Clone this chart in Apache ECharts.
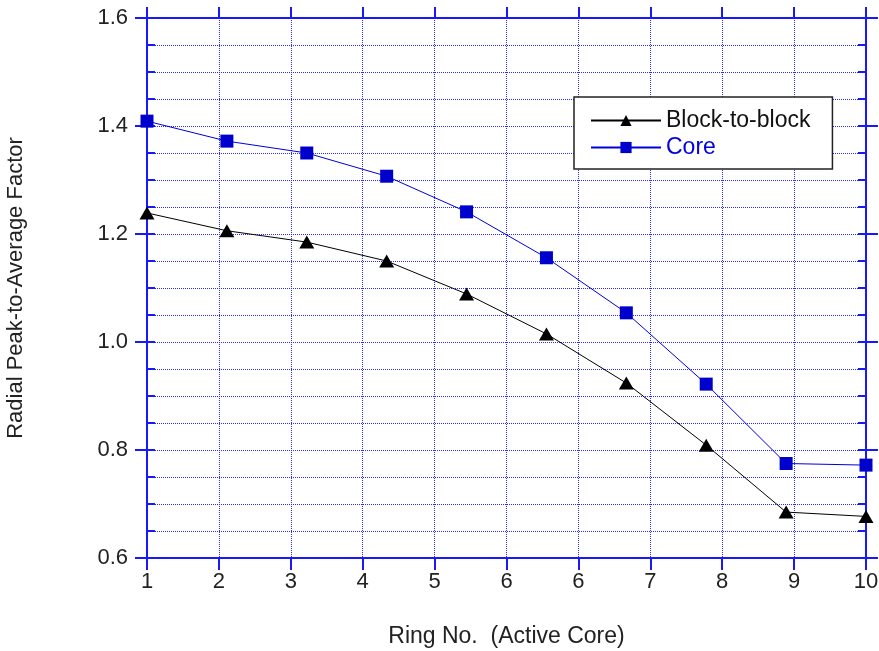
<!DOCTYPE html>
<html>
<head>
<meta charset="utf-8">
<script src="https://cdn.jsdelivr.net/npm/echarts@6/dist/echarts.min.js"></script>
<style>html,body{margin:0;padding:0;background:#fff}#c{width:879px;height:651px}</style>
</head>
<body>
<div id="c"></div>
<script>
const rings = [1, 2, 3, 4, 5, 6, 7, 8, 9, 10];
const tickLabels = ["1", "2", "3", "4", "5", "6", "6", "7", "8", "9", "10"];
const blockToBlock = [1.239, 1.206, 1.185, 1.150, 1.089, 1.015, 0.924, 0.809, 0.685, 0.677];
const core = [1.409, 1.372, 1.350, 1.307, 1.241, 1.156, 1.054, 0.922, 0.775, 0.772];

const AX = '#1818ff';
const GRIDC = '#2a2aff';
const FONT = '"Liberation Sans", Arial, sans-serif';
const TXT = '#222';

const chart = echarts.init(document.getElementById('c'), null, {renderer: 'canvas'});
const gridRect = {left: 147, right: 13, top: 18, bottom: 93, containLabel: false, outerBoundsMode: 'none'};
chart.setOption({
  backgroundColor: '#fff',
  animation: false,
  grid: [Object.assign({}, gridRect), Object.assign({}, gridRect)],
  xAxis: [
    {
      gridIndex: 0, type: 'category', data: tickLabels, boundaryGap: false, position: 'bottom',
      axisLine: {lineStyle: {color: AX, width: 2}},
      axisTick: {show: true, inside: false, length: 12, lineStyle: {color: AX, width: 2}},
      axisLabel: {color: TXT, fontSize: 22, fontFamily: FONT, margin: 13, interval: 0},
      splitLine: {show: true, lineStyle: {color: GRIDC, width: 1, type: [1, 1]}},
      name: 'Ring No.  (Active Core)', nameLocation: 'middle', nameGap: 67,
      nameTextStyle: {color: TXT, fontSize: 23, fontFamily: FONT}
    },
    {
      gridIndex: 0, type: 'category', data: tickLabels, boundaryGap: false, position: 'top',
      axisLine: {lineStyle: {color: AX, width: 2}},
      axisTick: {show: true, inside: false, length: 11, lineStyle: {color: AX, width: 2}},
      axisLabel: {show: false},
      splitLine: {show: false}
    },
    {
      gridIndex: 1, type: 'value', min: 1, max: 10, show: false,
      splitLine: {show: false}
    }
  ],
  yAxis: [
    {
      gridIndex: 0, type: 'value', min: 0.6, max: 1.6, interval: 0.2, position: 'left',
      axisLine: {show: true, lineStyle: {color: AX, width: 2}},
      axisTick: {show: true, inside: false, length: 12, lineStyle: {color: AX, width: 2}},
      axisLabel: {color: TXT, fontSize: 22, fontFamily: FONT, margin: 19,
        formatter: v => v.toFixed(1)},
      splitLine: {show: false},
      name: 'Radial Peak-to-Average Factor', nameLocation: 'middle', nameGap: 120,
      nameTextStyle: {color: TXT, fontSize: 22, fontFamily: FONT}
    },
    {
      gridIndex: 0, type: 'value', min: 0.6, max: 1.6, interval: 0.2, position: 'right',
      axisLine: {show: true, lineStyle: {color: AX, width: 2}},
      axisTick: {show: true, inside: false, length: 12, lineStyle: {color: AX, width: 2}},
      axisLabel: {show: false},
      splitLine: {show: false}
    },
    {
      gridIndex: 1, type: 'value', min: 0.6, max: 1.6, interval: 0.05, position: 'left',
      axisLine: {show: false},
      axisTick: {show: true, inside: true, length: 8, lineStyle: {color: AX, width: 2}},
      axisLabel: {show: false},
      splitLine: {show: true, lineStyle: {color: GRIDC, width: 1, type: [1, 1]}}
    },
    {
      gridIndex: 1, type: 'value', min: 0.6, max: 1.6, interval: 0.05, position: 'right',
      axisLine: {show: false},
      axisTick: {show: true, inside: true, length: 8, lineStyle: {color: AX, width: 2}},
      axisLabel: {show: false},
      splitLine: {show: false}
    }
  ],
  legend: {
    orient: 'vertical', left: 574, top: 97,
    padding: [12, 22, 10, 16], itemGap: 4,
    itemWidth: 70, itemHeight: 14,
    backgroundColor: '#fff', borderColor: '#222', borderWidth: 1.5,
    textStyle: {fontSize: 23, fontFamily: FONT, color: '#111'},
    data: [
      {name: 'Block-to-block', textStyle: {color: '#111'}},
      {name: 'Core', textStyle: {color: '#0000dd'}}
    ]
  },
  series: [
    {
      name: 'Block-to-block', type: 'line', xAxisIndex: 2, yAxisIndex: 2,
      data: rings.map((r, i) => [r, blockToBlock[i]]),
      symbol: 'triangle', symbolSize: [15, 13], showSymbol: true,
      itemStyle: {color: '#000'}, lineStyle: {color: '#000', width: 1}, z: 5
    },
    {
      name: 'Core', type: 'line', xAxisIndex: 2, yAxisIndex: 2,
      data: rings.map((r, i) => [r, core[i]]),
      symbol: 'rect', symbolSize: 13, showSymbol: true,
      itemStyle: {color: '#0000cc'}, lineStyle: {color: '#0000dd', width: 1}, z: 5
    }
  ]
});
</script>
</body>
</html>
